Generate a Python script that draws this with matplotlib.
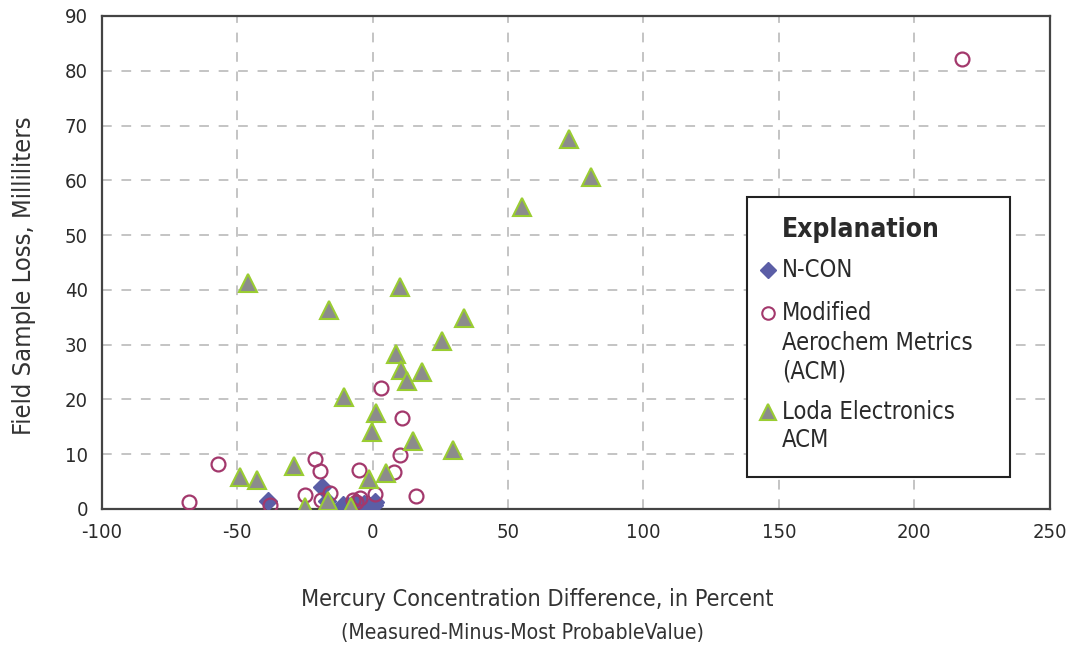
import matplotlib
matplotlib.use("Agg")
import matplotlib.pyplot as plt
from matplotlib.patches import Rectangle

plt.rcParams['font.family'] = ['DejaVu Sans']
plt.rcParams['font.stretch'] = 'condensed'
plt.rcParams['axes.unicode_minus'] = False

# N-CON (diamonds)
ncon_x = [-38.5, -18.7, -17.0, -11.0, -9.0, -6.0, -3.0, -1.0, 0.5, 1.0]
ncon_y = [1.4, 4.0, 1.5, 0.8, 0.5, 1.2, 1.0, 0.6, 0.8, 1.2]

# Modified Aerochem Metrics (ACM) (open circles)
acm_x = [217.5, 3.1, 10.8, 10.0, -21.4, -19.5, -5.0, 7.9, 16.1, -24.8,
         -15.6, -57.1, -67.9, -37.7, 0.8, -7.3, -4.8, -18.9, -6.0]
acm_y = [82.1, 22.1, 16.7, 9.8, 9.1, 6.9, 7.2, 6.7, 2.4, 2.5,
         3.0, 8.3, 1.2, 0.7, 2.8, 1.6, 2.0, 1.6, 1.2]

# Loda Electronics ACM (triangles)
loda_x = [-46.0, -16.0, -10.7, 10.2, 33.6, 25.6, 8.7, 10.6, 18.3, 12.7,
          1.1, -0.1, 14.9, 29.6, -29.1, -49.1, -42.7, -1.4, 5.0, -25.1,
          -16.3, -7.9, 72.4, 80.7, 55.1]
loda_y = [41.3, 36.4, 20.4, 40.6, 34.8, 30.7, 28.3, 25.3, 25.0, 23.3,
          17.6, 14.1, 12.4, 10.7, 7.8, 5.9, 5.3, 5.5, 6.6, 0.4,
          1.4, 0.4, 67.5, 60.6, 55.2]

ncon_color = '#5b5ea6'
acm_color = '#a3386c'
loda_face = '#8c8c8c'
loda_edge = '#9acd32'
text_color = '#2a2a2a'

fig = plt.figure(figsize=(10.71, 6.47), dpi=100)
ax = fig.add_axes([0.095, 0.2133, 0.885, 0.762])

ax.plot(ncon_x, ncon_y, 'D', ms=9, color=ncon_color, ls='none', zorder=3)
ax.plot(acm_x, acm_y, 'o', ms=10, mfc='none', mec=acm_color, mew=1.6, ls='none', zorder=4)
ax.plot(loda_x, loda_y, '^', ms=13.5, mfc=loda_face, mec=loda_edge, mew=1.5, ls='none', zorder=5)

ax.set_xlim(-100, 250)
ax.set_ylim(0, 90)
ax.set_xticks(range(-100, 251, 50))
ax.set_yticks(range(0, 91, 10))
ax.grid(True, color='#c4c4c4', linestyle=(0, (5, 5)), linewidth=1.4)
ax.set_axisbelow(True)
ax.tick_params(length=0, labelsize=14.5, colors=text_color, pad=10)
for s in ax.spines.values():
    s.set_color('#444444')
    s.set_linewidth(1.6)

fig.text(0.022, 0.574, 'Field Sample Loss, Milliliters', rotation=90,
         ha='center', va='center', fontsize=18.3, color='#333333')
fig.text(0.502, 0.073, 'Mercury Concentration Difference, in Percent',
         ha='center', va='center', fontsize=16.8, color='#333333')
fig.text(0.488, 0.022, '(Measured-Minus-Most ProbableValue)',
         ha='center', va='center', fontsize=15.2, color='#333333')

# legend ("Explanation" box)
ax.add_patch(Rectangle((0.681, 0.065), 0.277, 0.568, transform=ax.transAxes,
                       facecolor='white', edgecolor='#222222',
                       linewidth=1.5, zorder=6))
tx, mx = 0.718, 0.7025
ax.text(tx, 0.566, 'Explanation', transform=ax.transAxes, fontsize=19,
        fontweight='bold', va='center', ha='left', color=text_color, zorder=7)

entries = [
    (['N-CON'], [0.485], dict(marker='D', ms=8, color=ncon_color)),
    (['Modified', 'Aerochem Metrics', '(ACM)'], [0.3976, 0.337, 0.278],
     dict(marker='o', ms=9, mfc='none', mec=acm_color, mew=1.5)),
    (['Loda Electronics', 'ACM'], [0.197, 0.14],
     dict(marker='^', ms=12, mfc=loda_face, mec=loda_edge, mew=1.5)),
]
for lines, ys, style in entries:
    ax.plot([mx], [ys[0]], transform=ax.transAxes, ls='none', zorder=7,
            clip_on=False, **style)
    for line, y in zip(lines, ys):
        ax.text(tx, y, line, transform=ax.transAxes, fontsize=17,
                va='center', ha='left', color=text_color, zorder=7)

fig.savefig('out.png', dpi=100)
